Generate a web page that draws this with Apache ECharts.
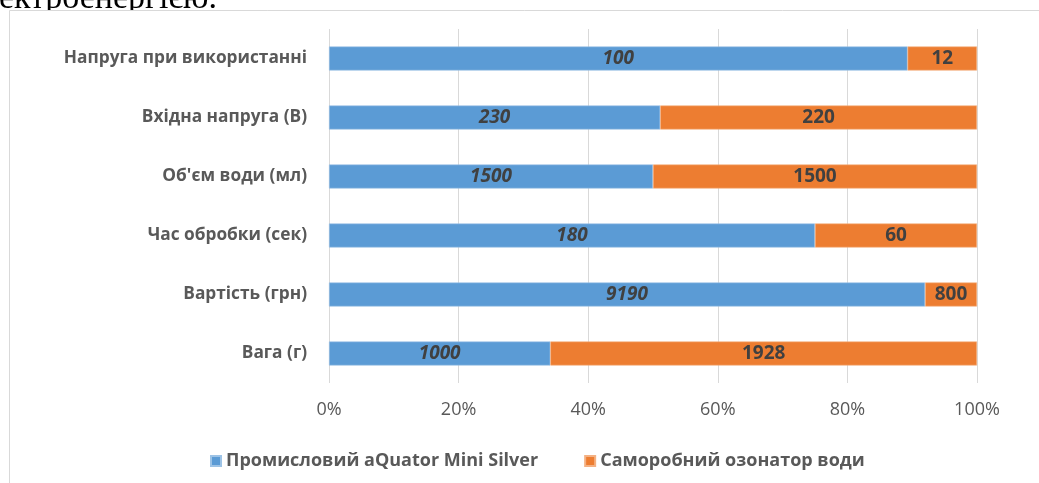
<!DOCTYPE html>
<html>
<head>
<meta charset="utf-8">
<script src="https://cdn.jsdelivr.net/npm/echarts@6/dist/echarts.min.js"></script>
<style>
  html, body { margin: 0; padding: 0; background: #fff; }
  #chart { width: 1039px; height: 483px; }
</style>
</head>
<body>
<div id="chart"></div>
<script>
// Categories listed bottom-to-top (ECharts draws the first category at the bottom)
const categories = [
  'Вага (г)',
  'Вартість (грн)',
  'Час обробки (сек)',
  "Об'єм води (мл)",
  'Вхідна напруга (В)',
  'Напруга при використанні'
];
const seriesNames = ['Промисловий aQuator Mini Silver', 'Саморобний озонатор води'];
const industrialValues = [1000, 9190, 180, 1500, 230, 100];
const homemadeValues = [1928, 800, 60, 1500, 220, 12];
const tickLabels = ['0%', '20%', '40%', '60%', '80%', '100%'];

// 100% stacking: each bar shows its share of the category total
const totals = industrialValues.map((v, i) => v + homemadeValues[i]);
const share = arr => arr.map((v, i) => ({ value: v / totals[i] * 100, raw: v }));

const labelColor = '#404040';
const axisTextColor = '#595959';
const font = 'Open Sans';

const chart = echarts.init(document.getElementById('chart'), null, { renderer: 'canvas' });
chart.setOption({
  animation: false,
  backgroundColor: '#ffffff',
  graphic: [
    {
      // line of page text above the chart frame, partly hidden behind it
      type: 'text',
      x: 217, y: 16,
      z: -20,
      style: {
        text: 'електроенергією.',
        font: '34px "Liberation Serif"',
        fill: '#000000',
        align: 'right',
        verticalAlign: 'bottom'
      },
      silent: true
    },
    {
      type: 'rect',
      z: -10,
      shape: { x: 9.5, y: 10.5, width: 1100, height: 600 },
      style: { fill: '#ffffff', stroke: '#d9d9d9', lineWidth: 1 },
      silent: true
    }
  ],
  legend: {
    bottom: 8,
    left: 205,
    itemWidth: 10,
    itemHeight: 10,
    itemGap: 46,
    icon: 'rect',
    data: seriesNames,
    textStyle: { color: axisTextColor, fontFamily: font, fontSize: 18, fontWeight: 'bold' }
  },
  grid: { left: 329, right: 62, top: 29, bottom: 100, containLabel: false },
  xAxis: {
    type: 'value',
    min: 0, max: 100, interval: 20,
    axisLine: { show: false },
    axisTick: { show: false },
    splitLine: { show: true, lineStyle: { color: '#d9d9d9', width: 1 } },
    axisLabel: {
      margin: 18,
      color: axisTextColor, fontFamily: font, fontSize: 18,
      formatter: v => tickLabels[Math.round(v / 20)]
    }
  },
  yAxis: {
    type: 'category',
    data: categories,
    axisLine: { show: false },
    axisTick: { show: false },
    axisLabel: { margin: 22, color: axisTextColor, fontFamily: font, fontSize: 17.3, fontWeight: 'bold' }
  },
  series: [
    {
      name: seriesNames[0],
      type: 'bar',
      stack: 'total',
      barWidth: 24,
      data: share(industrialValues),
      itemStyle: { color: '#5b9bd5', borderColor: '#9dc3e6', borderWidth: 0.6 },
      label: {
        show: true, position: 'inside',
        color: labelColor, fontFamily: font, fontSize: 19, fontWeight: 'bold', fontStyle: 'italic',
        formatter: p => String(p.data.raw)
      }
    },
    {
      name: seriesNames[1],
      type: 'bar',
      stack: 'total',
      barWidth: 24,
      data: share(homemadeValues),
      itemStyle: { color: '#ed7d31', borderColor: '#f4b183', borderWidth: 0.6 },
      label: {
        show: true, position: 'inside',
        color: labelColor, fontFamily: font, fontSize: 19, fontWeight: 'bold',
        formatter: p => String(p.data.raw)
      }
    }
  ]
});
</script>
</body>
</html>
